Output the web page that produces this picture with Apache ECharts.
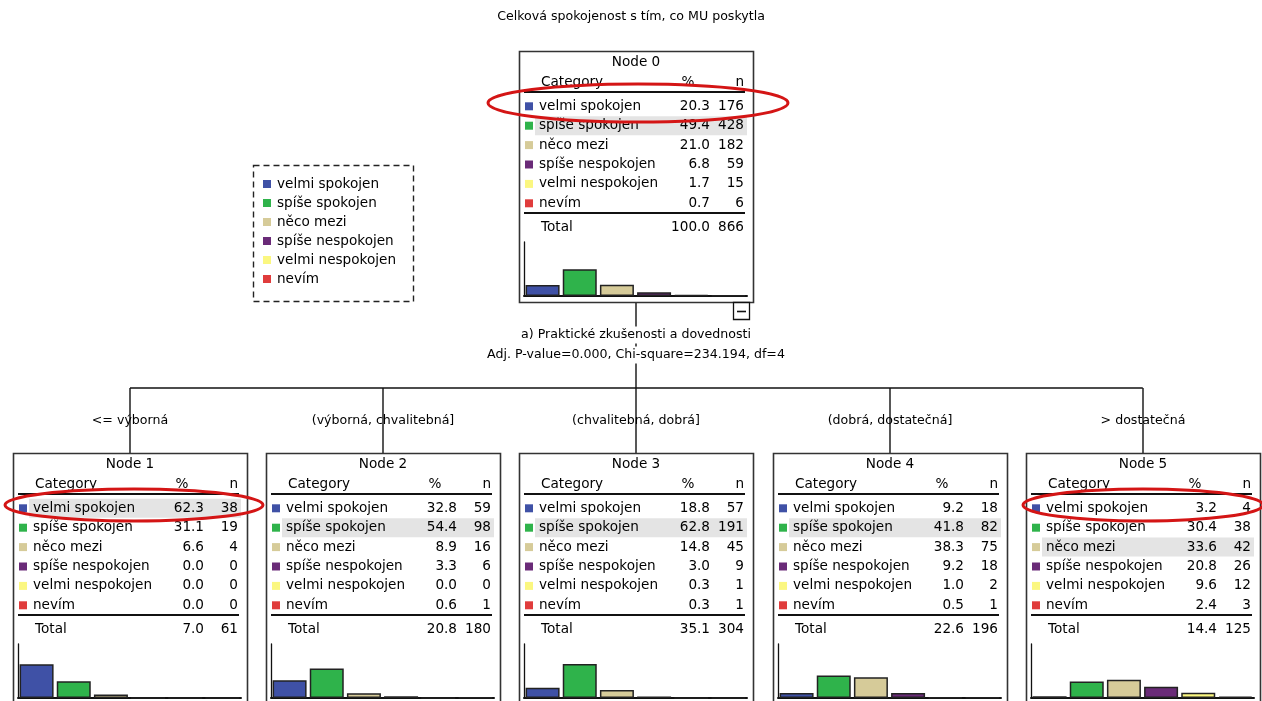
<!DOCTYPE html>
<html><head><meta charset="utf-8">
<script src="https://cdn.jsdelivr.net/npm/echarts@6/dist/echarts.min.js"></script>
<style>html,body{margin:0;padding:0;background:#fff}#c{width:1262px;height:701px}</style>
</head><body><div id="c"></div>
<script>
const chartTitle = 'Celková spokojenost s tím, co MU poskytla';
const categories = ['velmi spokojen','spíše spokojen','něco mezi','spíše nespokojen','velmi nespokojen','nevím'];
const nodeNames = ['Node 0','Node 1','Node 2','Node 3','Node 4','Node 5'];
const node0Pct = [20.3,49.4,21.0,6.8,1.7,0.7];
const node0N   = [176,428,182,59,15,6];
const node1Pct = [62.3,31.1,6.6,0.0,0.0,0.0];
const node1N   = [38,19,4,0,0,0];
const node2Pct = [32.8,54.4,8.9,3.3,0.0,0.6];
const node2N   = [59,98,16,6,0,1];
const node3Pct = [18.8,62.8,14.8,3.0,0.3,0.3];
const node3N   = [57,191,45,9,1,1];
const node4Pct = [9.2,41.8,38.3,9.2,1.0,0.5];
const node4N   = [18,82,75,18,2,1];
const node5Pct = [3.2,30.4,33.6,20.8,9.6,2.4];
const node5N   = [4,38,42,26,12,3];
const totalPct = [100.0,7.0,20.8,35.1,22.6,14.4];
const totalN   = [866,61,180,304,196,125];
const splitVariable = 'a) Praktické zkušenosti a dovednosti';
const splitStats = 'Adj. P-value=0.000, Chi-square=234.194, df=4';
const branchLabels = ['<= výborná','(výborná, chvalitebná]','(chvalitebná, dobrá]','(dobrá, dostatečná]','> dostatečná'];
const highlightedNodes = [0,1,5];

const nodePct = [node0Pct,node1Pct,node2Pct,node3Pct,node4Pct,node5Pct];
const nodeN = [node0N,node1N,node2N,node3N,node4N,node5N];
const colors = ['#3f51a6','#2fb34b','#d6cb99','#6a2b78','#fbf780','#e03c3c'];

const FONT = 'DejaVu Sans';
const nf = '13.6px "' + FONT + '"';
const lf = '12.6px "' + FONT + '"';
const BW = 234, BH = 251;
const boxes = [{L:519,T:51}];
for (let i=0;i<5;i++) boxes.push({L: Math.round(130 + i*253.2 - BW/2), T:453});

const graphic = [];
function txt(x,y,t,font,align,extra){
  const s = Object.assign({text:t, font:font, fill:'#000', align:align||'left', verticalAlign:'middle', textAlign:align||'left', textVerticalAlign:'middle'}, extra||{});
  graphic.push({type:'text', x:x, y:y, z:50, style:s});
}
function line(x1,y1,x2,y2,w,z){
  graphic.push({type:'line', z:z||40, shape:{x1,y1,x2,y2}, style:{stroke:'#111', lineWidth:w||1}});
}
function rect(x,y,w,h,style,z){
  graphic.push({type:'rect', z:z||40, shape:{x,y,width:w,height:h}, style});
}

txt(631,17,chartTitle,lf,'center');

// legend
graphic.push({type:'rect', z:40, shape:{x:253.5,y:165.5,width:160,height:136}, style:{fill:'none', stroke:'#222', lineWidth:1.4, lineDash:[6,4]}});
categories.forEach((c,i)=>{
  const y = 184 + i*19;
  rect(263, y-4, 8, 8, {fill:colors[i]}, 45);
  txt(277, y, c, nf, 'left');
});

// connectors
const c0 = boxes[0].L + BW/2;
line(c0, 302, c0, 388, 1.4);
line(130, 388, 130 + 4*253.2, 388, 1.4);
for (let i=0;i<5;i++){
  const cx = boxes[i+1].L + BW/2;
  line(cx, 388, cx, 453, 1.4);
  txt(cx, 421, branchLabels[i], lf, 'center');
}
txt(c0, 335, splitVariable, lf, 'center', {backgroundColor:'#fff', padding:[2,3]});
txt(c0, 355, splitStats, lf, 'center', {backgroundColor:'#fff', padding:[2,3]});
// collapse box
rect(733.5, 302.5, 16, 17, {fill:'#fff', stroke:'#111', lineWidth:1.3}, 41);
line(737, 311.5, 746, 311.5, 1.6, 42);

// nodes
const grids = [], xAxes = [], yAxes = [], series = [];
boxes.forEach((b,k)=>{
  const L=b.L, T=b.T, R=L+BW;
  rect(L+0.5, T+0.5, BW, BH, {fill:'none', stroke:'#333', lineWidth:1.6}, 40);
  txt(L+BW/2, T+11, nodeNames[k], nf, 'center');
  txt(L+22, T+31, 'Category', nf, 'left');
  txt(R-65, T+31, '%', nf, 'center');
  txt(R-9, T+31, 'n', nf, 'right');
  line(L+5, T+41, R-8, T+41, 1.8);
  const pct = nodePct[k], ns = nodeN[k];
  let m = 0; pct.forEach((v,i)=>{ if (v>pct[m]) m=i; });
  rect(L+16, T+55.3+m*19.4-9.5, BW-22, 19, {fill:'#e4e4e4'}, 35);
  categories.forEach((c,i)=>{
    const y = T+55.3+i*19.4;
    rect(L+6, y-4, 8, 8, {fill:colors[i]}, 45);
    txt(L+20, y, c, nf, 'left');
    txt(R-43, y, pct[i].toFixed(1), nf, 'right');
    txt(R-9, y, String(ns[i]), nf, 'right');
  });
  line(L+5, T+162, R-8, T+162, 1.8);
  txt(L+22, T+176, 'Total', nf, 'left');
  txt(R-43, T+176, totalPct[k].toFixed(1), nf, 'right');
  txt(R-9, T+176, String(totalN[k]), nf, 'right');

  grids.push({left:L+5, top:T+191, width:BW-11, height:54, containLabel:false});
  xAxes.push({gridIndex:k, type:'category', data:categories, axisLabel:{show:false}, axisTick:{show:false},
    axisLine:{show:true, lineStyle:{color:'#111', width:2}}, splitLine:{show:false}});
  yAxes.push({gridIndex:k, type:'value', min:0, max:100, axisLabel:{show:false}, axisTick:{show:false},
    axisLine:{show:true, lineStyle:{color:'#111', width:1.3}}, splitLine:{show:false}});
  series.push({type:'bar', xAxisIndex:k, yAxisIndex:k, barWidth:34, silent:true, animation:false,
    data: pct.map((v,i)=>({value:v, itemStyle:{color:colors[i]}})),
    itemStyle:{borderColor:'#222', borderWidth:1.5}});
});

// red ellipses
const ell = [{cx:638,cy:103,rx:150,ry:19},{cx:134,cy:505,rx:129,ry:16},{cx:1143,cy:505,rx:120,ry:16}];
highlightedNodes.forEach((n,i)=>{
  const e = ell[i];
  graphic.push({type:'ellipse', z:60, shape:{cx:e.cx, cy:e.cy, rx:e.rx, ry:e.ry}, style:{fill:'none', stroke:'#d41515', lineWidth:3}});
});

const chart = echarts.init(document.getElementById('c'), null, {renderer:'canvas'});
chart.setOption({
  animation:false,
  backgroundColor:'#fff',
  grid:grids, xAxis:xAxes, yAxis:yAxes, series:series,
  graphic:{elements:graphic}
});
</script>
</body></html>
